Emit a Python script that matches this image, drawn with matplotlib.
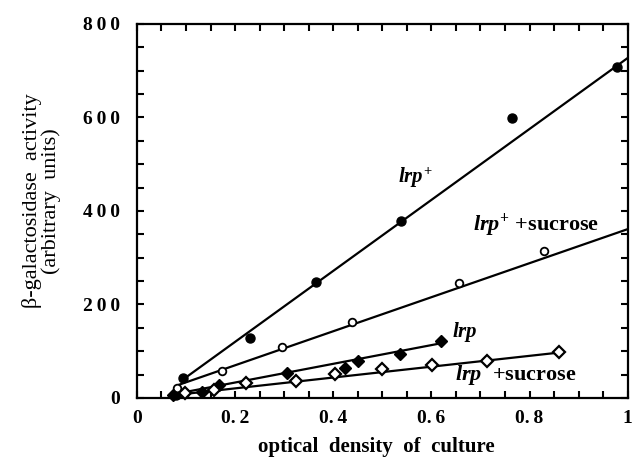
import matplotlib.pyplot as plt
from matplotlib.ticker import MultipleLocator

# lrp+ (filled circles)
lrp_plus_x = [0.079, 0.094, 0.230, 0.365, 0.539, 0.765, 0.978]
lrp_plus_y = [6, 43, 129, 249, 378, 599, 707]
lrp_plus_fit_x = [0.092, 1.0]
lrp_plus_fit_y = [38, 727]

# lrp+ + sucrose (open circles)
lrp_plus_suc_x = [0.081, 0.098, 0.174, 0.295, 0.439, 0.656, 0.830]
lrp_plus_suc_y = [22, 11, 57, 108, 162, 246, 315]
lrp_plus_suc_fit_x = [0.085, 1.0]
lrp_plus_suc_fit_y = [28, 361]

# lrp (filled diamonds)
lrp_x = [0.073, 0.132, 0.167, 0.306, 0.424, 0.450, 0.536, 0.619]
lrp_y = [6, 13, 27, 54, 63, 80, 94, 121]
lrp_fit_x = [0.075, 0.62]
lrp_fit_y = [8, 117]

# lrp + sucrose (open diamonds)
lrp_suc_x = [0.098, 0.157, 0.223, 0.324, 0.404, 0.499, 0.602, 0.713, 0.861]
lrp_suc_y = [11, 17, 31, 36, 52, 61, 71, 80, 99]
lrp_suc_fit_x = [0.075, 0.86]
lrp_suc_fit_y = [6, 97]

x_ticks = [0, 0.2, 0.4, 0.6, 0.8, 1.0]
x_tick_labels = ["0", "0.\u20092", "0.\u20094", "0.\u20096", "0.\u20098", "1"]
y_ticks = [0, 200, 400, 600, 800]
y_tick_labels = ["0", "2\u20090\u20090", "4\u20090\u20090", "6\u20090\u20090", "8\u20090\u20090"]

plt.rcParams["font.family"] = ["Liberation Serif", "DejaVu Serif"]
plt.rcParams["mathtext.fontset"] = "custom"
plt.rcParams["mathtext.it"] = "Liberation Serif:italic:bold"
plt.rcParams["mathtext.rm"] = "Liberation Serif:bold"

fig = plt.figure(figsize=(6.34, 4.59), dpi=100)
ax = fig.add_axes([0.216, 0.133, 0.774, 0.815])

lw = 1.6
ax.plot(lrp_plus_fit_x, lrp_plus_fit_y, color="black", lw=lw)
ax.plot(lrp_plus_suc_fit_x, lrp_plus_suc_fit_y, color="black", lw=lw)
ax.plot(lrp_fit_x, lrp_fit_y, color="black", lw=lw)
ax.plot(lrp_suc_fit_x, lrp_suc_fit_y, color="black", lw=lw)

ax.plot(lrp_plus_x, lrp_plus_y, "o", color="black", ms=6.5, clip_on=False, zorder=3)
ax.plot(lrp_plus_suc_x, lrp_plus_suc_y, "o", mfc="white", mec="black", mew=1.3, ms=5.5,
        clip_on=False, zorder=3)
ax.plot(lrp_x, lrp_y, "D", color="black", ms=6.5, clip_on=False, zorder=3)
ax.plot(lrp_suc_x, lrp_suc_y, "D", mfc="white", mec="black", mew=1.6, ms=6.5,
        clip_on=False, zorder=3)

ax.set_xlim(0, 1)
ax.set_ylim(0, 800)
ax.set_xticks(x_ticks)
ax.set_xticklabels(x_tick_labels)
ax.set_yticks(y_ticks)
ax.set_yticklabels(y_tick_labels)
ax.xaxis.set_minor_locator(MultipleLocator(0.05))
ax.yaxis.set_minor_locator(MultipleLocator(50))
ax.tick_params(which="both", direction="in", top=True, right=True, length=5, width=1.5)
ax.tick_params(axis="x", pad=9)
ax.tick_params(axis="y", pad=12)
for lab in ax.get_xticklabels() + ax.get_yticklabels():
    lab.set_fontweight("bold")
    lab.set_fontsize(14)
for sp in ax.spines.values():
    sp.set_linewidth(1.6)

ax.set_xlabel("optical  density  of  culture", fontsize=15, fontweight="bold", va="center")
ax.xaxis.set_label_coords(0.487, -0.132)
fig.text(0.066, 0.562, "\u03b2-galactosidase  activity\n(arbitrary  units)", fontsize=16,
         rotation=90, ha="center", va="center", multialignment="center", linespacing=0.95)

ax.text(0.532, 460, r"$lrp^{+}$", fontsize=15)
ax.text(0.684, 359, r"$lrp^{+}$" + " +sucrose", fontsize=16, fontweight="bold")
ax.text(0.642, 130, r"$lrp$", fontsize=15)
ax.text(0.648, 38, r"$lrp$" + "  +sucrose", fontsize=16, fontweight="bold")

plt.savefig("out.png", dpi=100)
